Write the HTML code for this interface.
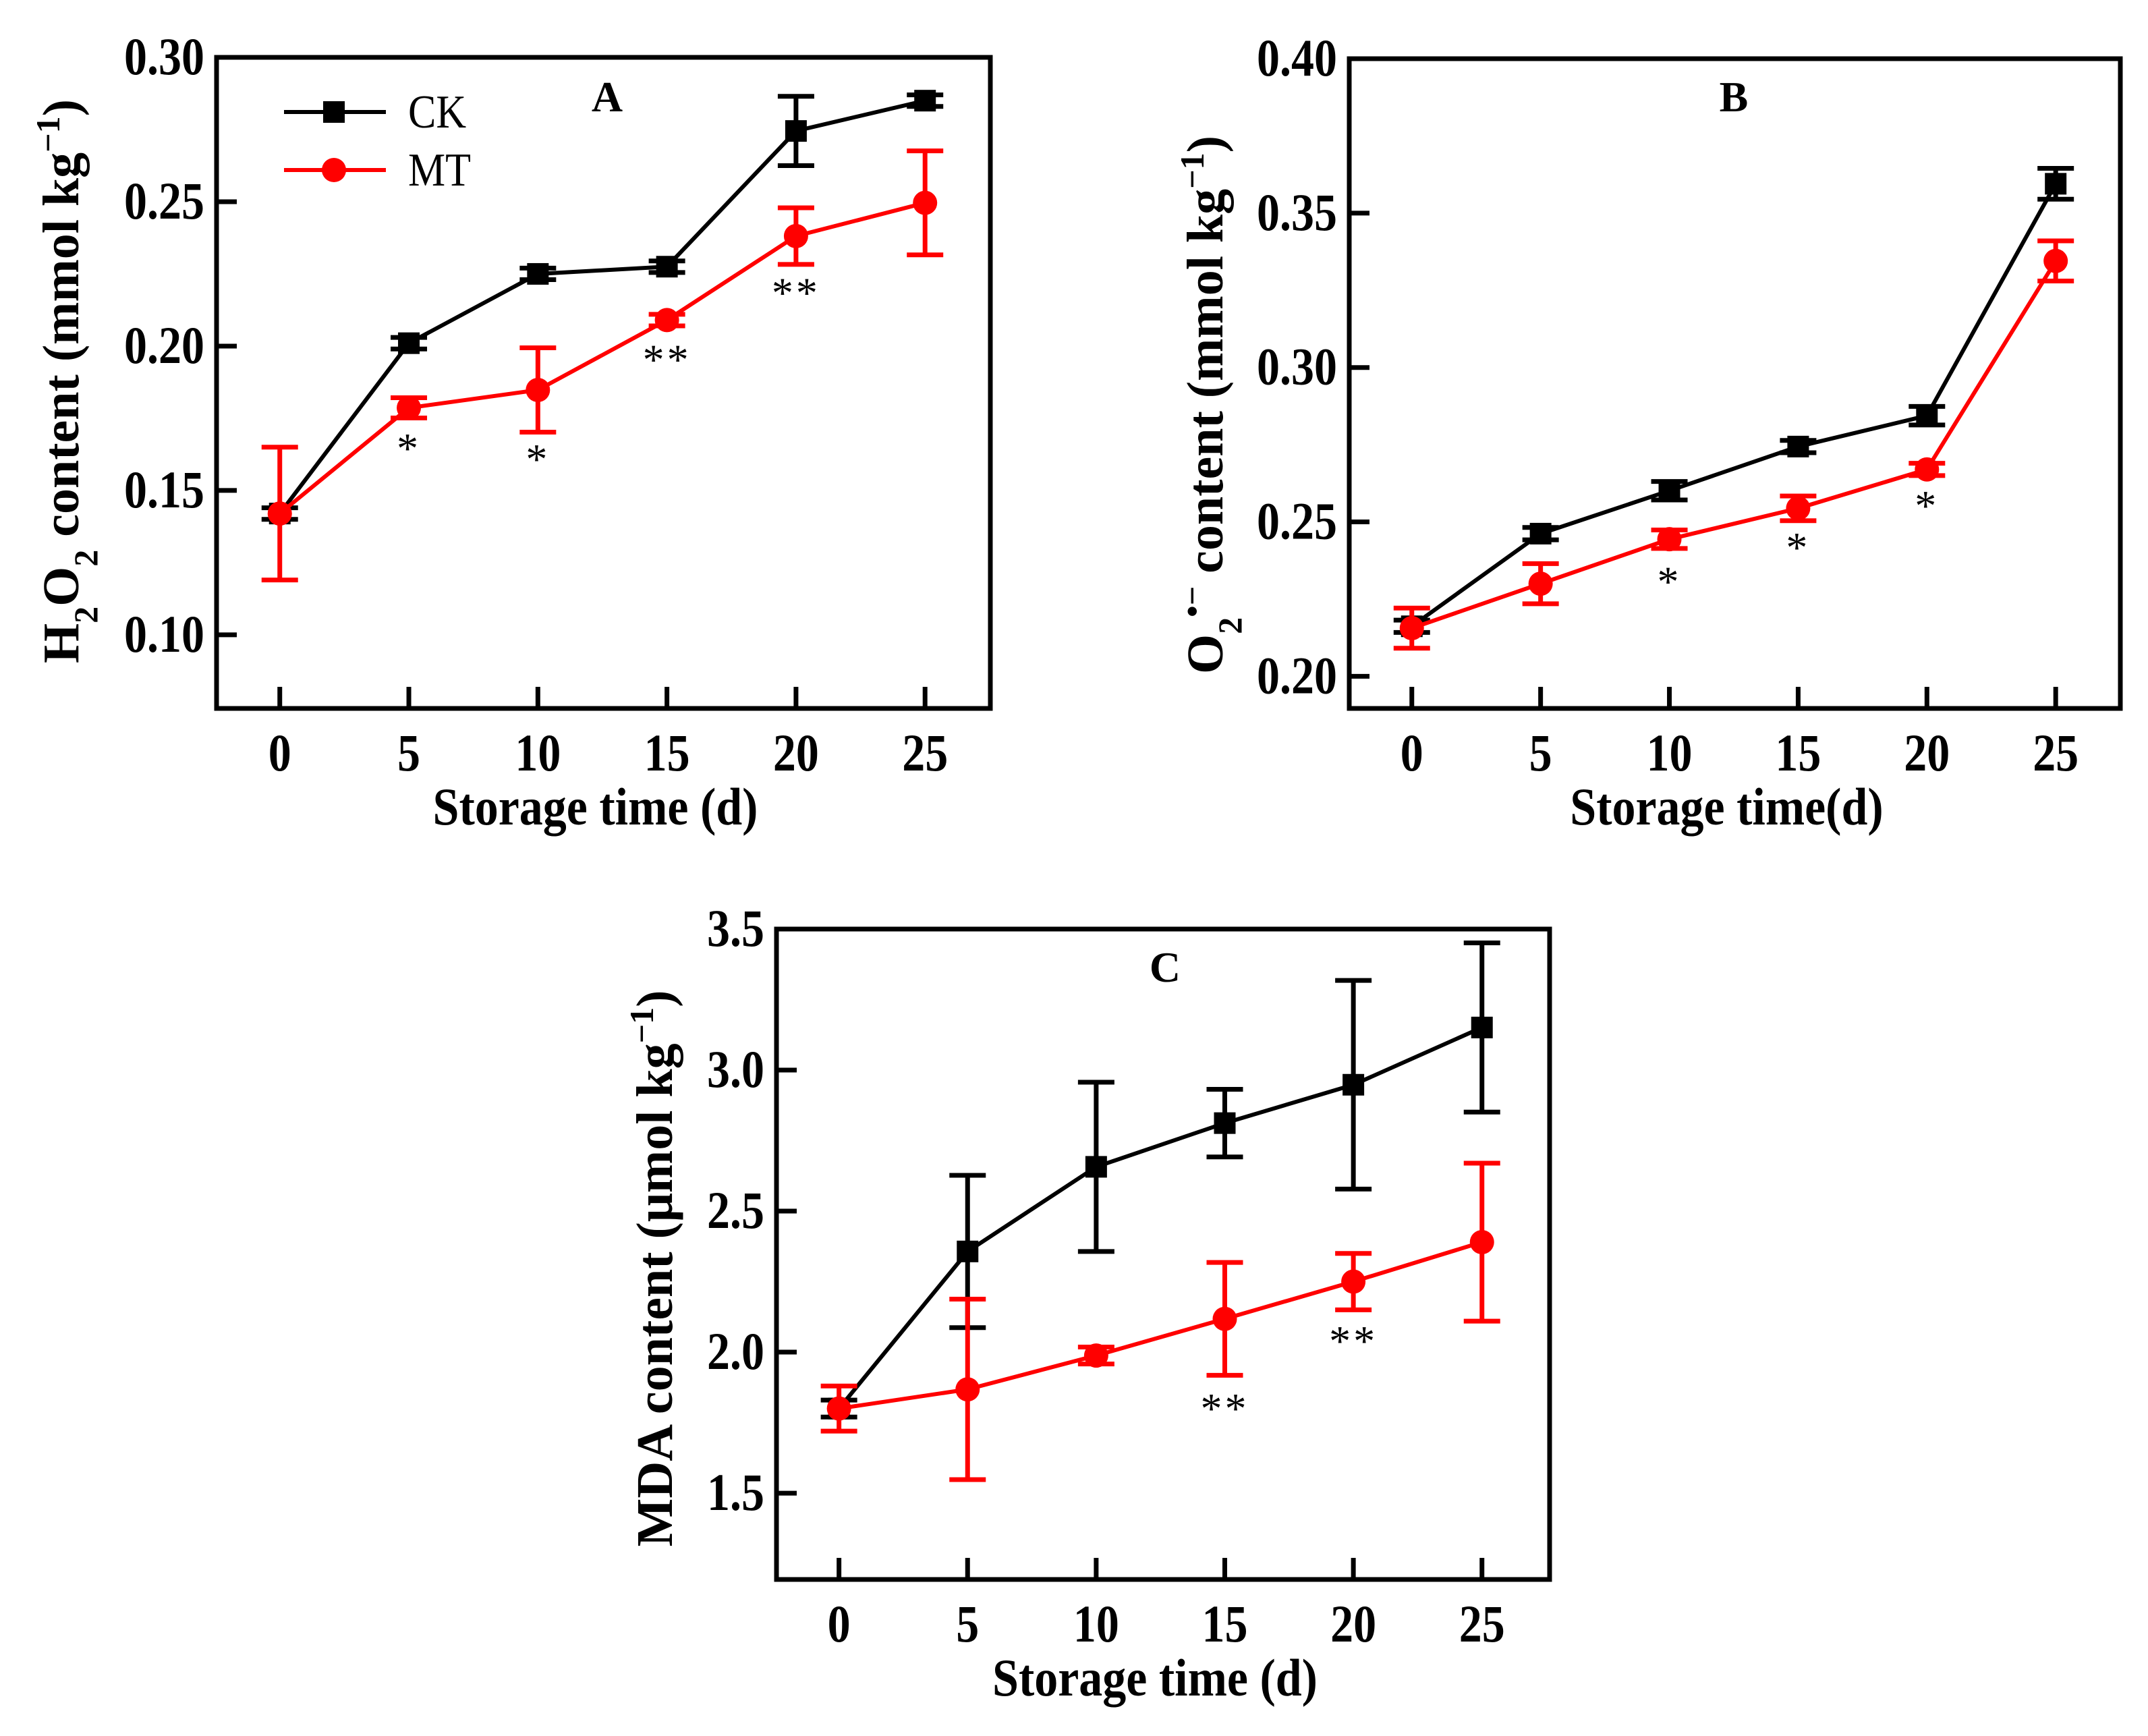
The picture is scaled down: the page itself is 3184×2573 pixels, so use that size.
<!DOCTYPE html>
<html><head><meta charset="utf-8">
<style>
html,body{margin:0;padding:0;background:#fff;}
svg{display:block;}
text{font-family:"Liberation Serif",serif;}
</style></head>
<body>
<svg id="fig" xmlns="http://www.w3.org/2000/svg" width="3184" height="2573" viewBox="0 0 3184 2573"></svg>
<script>
// ---- data ----
const days = [0, 5, 10, 15, 20, 25];
const xTicks = [0, 5, 10, 15, 20, 25];
// Panel A: H2O2
const aCK = [0.142, 0.201, 0.225, 0.2275, 0.2745, 0.285];
const aCKerr = [0.002, 0.002, 0.002, 0.002, 0.012, 0.002];
const aMT = [0.142, 0.1786, 0.1848, 0.209, 0.2381, 0.2496];
const aMTerr = [0.023, 0.0035, 0.0146, 0.002, 0.0098, 0.018];
const aStars = ["", "*", "*", "**", "**", ""];
const aStarY = [0, 0.1675, 0.1638, 0.1982, 0.2214, 0];
const aYTicks = [0.10, 0.15, 0.20, 0.25, 0.30];
// Panel B: O2-
const bCK = [0.2162, 0.2462, 0.2601, 0.2744, 0.2844, 0.3595];
const bCKerr = [0.002, 0.002, 0.003, 0.002, 0.003, 0.005];
const bMT = [0.2156, 0.230, 0.2444, 0.2544, 0.267, 0.3345];
const bMTerr = [0.0065, 0.0065, 0.003, 0.004, 0.002, 0.0065];
const bStars = ["", "", "*", "*", "*", ""];
const bStarY = [0, 0, 0.2334, 0.2444, 0.258, 0];
const bYTicks = [0.20, 0.25, 0.30, 0.35, 0.40];
// Panel C: MDA
const cCK = [1.80, 2.357, 2.657, 2.812, 2.948, 3.151];
const cCKerr = [0.03, 0.27, 0.30, 0.12, 0.37, 0.30];
const cMT = [1.80, 1.868, 1.988, 2.118, 2.25, 2.39];
const cMTerr = [0.08, 0.32, 0.03, 0.20, 0.10, 0.28];
const cStars = ["", "", "", "**", "**", ""];
const cStarY = [0, 0, 0, 1.83, 2.07, 0];
const cYTicks = [1.5, 2.0, 2.5, 3.0, 3.5];

const NS = "http://www.w3.org/2000/svg";
const svg = document.getElementById('fig');
function mk(tag, attrs, parent) {
  const e = document.createElementNS(NS, tag);
  for (const k in attrs) e.setAttribute(k, attrs[k]);
  (parent || svg).appendChild(e);
  return e;
}

function panel(cfg) {
  const g = mk('g', {});
  
  
  const L = cfg.L, R = cfg.R, T = cfg.T, B = cfg.B;
  const sx = v => L + (v - cfg.xmin) / (cfg.xmax - cfg.xmin) * (R - L);
  const sy = v => B - (v - cfg.ymin) / (cfg.ymax - cfg.ymin) * (B - T);

  cfg.yTicks.forEach((t, i) => {
    const y = sy(t);
    const tk = mk('line', {x1: L, x2: L + 30, y1: y, y2: y, stroke: '#000', 'stroke-width': 7}, g);
    
    
    const lb = mk('text', {x: 0, y: 0, 'text-anchor': 'end', 'font-size': 68, 'font-weight': 'bold', transform: `translate(${L - 18},${y + 25}) scale(1,1.15)`}, g);
    lb.textContent = t.toFixed(cfg.dec);
    
    
  });
  xTicks.forEach(t => {
    const x = sx(t);
    const tk = mk('line', {x1: x, x2: x, y1: B, y2: B - 32, stroke: '#000', 'stroke-width': 7}, g);
    
    
    const lb = mk('text', {x: 0, y: 0, 'text-anchor': 'middle', 'font-size': 68, 'font-weight': 'bold', transform: `translate(${x},${B + 92}) scale(1,1.15)`}, g);
    lb.textContent = String(t);
    
    
  });

  function series(vals, errs, color, marker, name) {
    const pts = days.map((d, i) => sx(d) + ',' + sy(vals[i])).join(' ');
    const ln = mk('polyline', {points: pts, fill: 'none', stroke: color, 'stroke-width': 6}, g);
    
    
    days.forEach((d, i) => {
      const x = sx(d), y1 = sy(vals[i] + errs[i]), y2 = sy(vals[i] - errs[i]);
      const eg = mk('path', {d: `M${x},${y1}V${y2}M${x-27},${y1}H${x+27}M${x-27},${y2}H${x+27}`, stroke: color, 'stroke-width': 7, fill: 'none'}, g);
      
      
      let m;
      if (marker === 'sq') m = mk('rect', {x: x - 16, y: sy(vals[i]) - 16, width: 32, height: 32, fill: color}, g);
      else m = mk('circle', {cx: x, cy: sy(vals[i]), r: 18, fill: color}, g);
      
      
    });
  }
  series(cfg.ck, cfg.ckErr, '#000', 'sq', 'ck');
  series(cfg.mt, cfg.mtErr, '#ff0000', 'ci', 'mt');

  cfg.stars.forEach((s, i) => {
    if (!s) return;
    const st = mk('text', {x: sx(days[i]), y: sy(cfg.starY[i]) + 34, 'text-anchor': 'middle', 'font-size': 64, fill: '#000', 'letter-spacing': 4}, g);
    st.textContent = s;
    
    
  });

  const fr = mk('rect', {x: L, y: T, width: R - L, height: B - T, fill: 'none', stroke: '#000', 'stroke-width': 7}, g);
  
  

  const lt = mk('text', {x: cfg.letterX, y: cfg.letterY, 'text-anchor': 'middle', 'font-size': 64, 'font-weight': 'bold'}, g);
  lt.textContent = cfg.id;
  
  

  const xt = mk('text', {x: 0, y: 0, 'text-anchor': 'middle', 'font-size': 70, 'font-weight': 'bold', transform: `translate(${(L + R) / 2 - 12},${B + 172}) scale(1,1.12)`}, g);
  xt.textContent = cfg.xTitle;
  
  

  const yt = mk('text', {x: 0, y: 0, 'text-anchor': 'middle', 'font-size': 76, 'font-weight': 'bold', transform: `translate(${cfg.ytX},${cfg.ytY}) rotate(-90)`}, g);
  yt.innerHTML = cfg.yTitle;
  
  
  return g;
}

const sub = t => `<tspan baseline-shift="sub" font-size="50">${t}</tspan>`;
const sup = t => `<tspan baseline-shift="super" font-size="50">${t}</tspan>`;

panel({id: 'A', L: 321, R: 1468, T: 85, B: 1050, xmin: -2.45, xmax: 27.53, ymin: 0.0745, ymax: 0.30,
  yTicks: aYTicks, dec: 2, ck: aCK, ckErr: aCKerr, mt: aMT, mtErr: aMTerr, stars: aStars, starY: aStarY,
  letterX: 900, letterY: 165, xTitle: 'Storage time (d)', ytX: 116, ytY: 565,
  yTitle: 'H' + sub('2') + 'O' + sub('2') + ' content (mmol kg' + sup('−1') + ')'});
panel({id: 'B', L: 2000, R: 3143, T: 87, B: 1050, xmin: -2.43, xmax: 27.51, ymin: 0.1896, ymax: 0.40,
  yTicks: bYTicks, dec: 2, ck: bCK, ckErr: bCKerr, mt: bMT, mtErr: bMTerr, stars: bStars, starY: bStarY,
  letterX: 2570, letterY: 165, xTitle: 'Storage time(d)', ytX: 1812, ytY: 600,
  yTitle: 'O' + sub('2') + sup('•−') + ' content (mmol kg' + sup('−1') + ')'});
panel({id: 'C', L: 1151, R: 2297, T: 1377, B: 2341, xmin: -2.43, xmax: 27.63, ymin: 1.194, ymax: 3.5,
  yTicks: cYTicks, dec: 1, ck: cCK, ckErr: cCKerr, mt: cMT, mtErr: cMTerr, stars: cStars, starY: cStarY,
  letterX: 1727, letterY: 1455, xTitle: 'Storage time (d)', ytX: 996, ytY: 1880,
  yTitle: 'MDA content (μmol kg' + sup('−1') + ')'});

// legend (panel A)
const leg = mk('g', {});


const legItems = [['CK', '#000', 'sq', 166], ['MT', '#ff0000', 'ci', 252]];
legItems.forEach(it => {
  const e = mk('g', {}, leg);
  
  
  mk('line', {x1: 421, x2: 572, y1: it[3], y2: it[3], stroke: it[1], 'stroke-width': 6}, e);
  if (it[2] === 'sq') mk('rect', {x: 479, y: it[3] - 16, width: 32, height: 32, fill: it[1]}, e);
  else mk('circle', {cx: 495, cy: it[3], r: 18, fill: it[1]}, e);
  const t = mk('text', {x: 0, y: 0, 'font-size': 62, transform: `translate(605,${it[3] + 23}) scale(1,1.12)`}, e);
  t.textContent = it[0];
});
</script>
</body></html>
